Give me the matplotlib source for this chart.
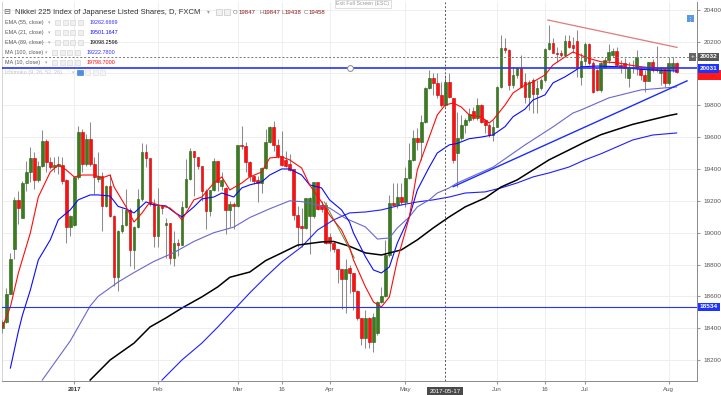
import matplotlib.pyplot as plt
from matplotlib.patches import Rectangle
import numpy as np

plt.rcParams['font.family'] = ['Liberation Sans', 'DejaVu Sans']

# daily bars, bar 0 = first (partly hidden) bar on the left
opens = [18400, 18442, 18614, 18896, 19204, 19095, 19311, 19378, 19468, 19332,
         19416, 19577, 19441, 19414, 19420, 19426, 19332, 19037, 19049, 19351,
         19629, 19430, 19587, 19430, 19340, 19355, 19169, 19294, 19106, 18723,
         19012, 19051, 19141, 18890, 19037, 19210, 19508, 19468, 19179, 18980,
         19169, 19050, 19058, 18844, 18938, 18924, 19162, 19336, 19510, 19472,
         19420, 19263, 19133, 19267, 19447, 19290, 19280, 19141, 19183, 19167,
         19550, 19545, 19445, 19357, 19330, 19309, 19405, 19571, 19661, 19552,
         19483, 19455, 19430, 19397, 19112, 19040, 19030, 19106, 19106, 19315,
         19175, 19175, 18970, 18938, 18896, 18771, 18708, 18776, 18745, 18636,
         18463, 18337, 18463, 18316, 18368, 18567, 18603, 18860, 19189, 19174,
         19226, 19195, 19341, 19456, 19592, 19571, 19697, 19906, 19969, 19938,
         19864, 19802, 19948, 19847, 19500, 19592, 19676, 19707, 19766, 19718,
         19802, 19707, 19676, 19613, 19666, 19917, 20157, 20147, 19927, 19990,
         20032, 19948, 19850, 19958, 19871, 19906, 19958, 20151, 20193, 20130,
         20126, 20115, 20205, 20180, 20205, 19979, 20078, 20184, 20063, 20021,
         19896, 20042, 20084, 20115, 20140, 20053, 20063, 19969, 20042, 20032,
         20025, 19990, 19952, 20069, 20025, 20000, 20025, 19938, 20025, 20067]
highs = [18450, 18651, 18875, 19221, 19263, 19326, 19451, 19535, 19504, 19451,
         19644, 19587, 19472, 19474, 19480, 19472, 19335, 19110, 19351, 19671,
         19650, 19619, 19692, 19472, 19504, 19378, 19300, 19368, 19110, 19015,
         19158, 19273, 19158, 19045, 19273, 19560, 19556, 19470, 19210, 19280,
         19175, 19095, 19060, 19012, 18960, 19200, 19462, 19529, 19515, 19476,
         19420, 19275, 19270, 19468, 19450, 19384, 19285, 19200, 19190, 19552,
         19671, 19570, 19448, 19360, 19357, 19410, 19650, 19671, 19698, 19587,
         19640, 19514, 19493, 19400, 19169, 19158, 19220, 19225, 19320, 19320,
         19200, 19190, 19001, 18950, 18900, 18775, 18834, 18797, 18750, 18640,
         18465, 18515, 18470, 18494, 18570, 18661, 18954, 19237, 19310, 19310,
         19310, 19415, 19561, 19645, 19655, 19739, 19917, 20021, 20000, 20000,
         19948, 19990, 20000, 19847, 19760, 19739, 19718, 19781, 19787, 19843,
         19805, 19712, 19686, 19707, 19920, 20241, 20220, 20150, 20042, 20042,
         20115, 20000, 19958, 19969, 19958, 19969, 20157, 20304, 20220, 20168,
         20147, 20241, 20241, 20230, 20272, 20126, 20199, 20193, 20078, 20025,
         20073, 20105, 20184, 20157, 20168, 20084, 20094, 20073, 20084, 20147,
         20042, 20021, 20073, 20090, 20172, 20042, 20032, 20101, 20105, 20073]
lows = [18370, 18436, 18612, 18834, 19053, 19091, 19263, 19315, 19273, 19315,
        19410, 19378, 19399, 19378, 19370, 19305, 18938, 18980, 19040, 19340,
        19378, 19420, 19420, 19242, 19320, 19012, 19160, 19100, 18666, 18635,
        19001, 19045, 18792, 18771, 19030, 19200, 19410, 19170, 18907, 18907,
        19115, 18844, 18802, 18792, 18855, 18920, 19155, 19330, 19231, 19399,
        19200, 19022, 19106, 19260, 19263, 19270, 18991, 19033, 19022, 19160,
        19525, 19378, 19326, 19305, 19190, 19252, 19400, 19565, 19510, 19468,
        19420, 19410, 19390, 19081, 18907, 18907, 19025, 18865, 19095, 19140,
        19127, 18930, 18886, 18880, 18687, 18519, 18498, 18620, 18515, 18452,
        18295, 18274, 18274, 18253, 18360, 18557, 18599, 18850, 19170, 19153,
        19174, 19164, 19335, 19450, 19519, 19456, 19690, 19900, 19864, 19843,
        19791, 19791, 19845, 19438, 19289, 19582, 19624, 19697, 19707, 19707,
        19686, 19624, 19603, 19578, 19661, 19910, 20126, 19896, 19906, 19969,
        19912, 19812, 19770, 19749, 19749, 19896, 19948, 20147, 20126, 20073,
        20105, 20105, 20157, 20126, 19979, 19927, 20053, 20053, 19875, 19890,
        19885, 20032, 20063, 20105, 20042, 20000, 19969, 19917, 20000, 19990,
        19958, 19885, 19950, 20011, 20011, 19927, 19917, 19930, 20011, 20000]
closes = [18440, 18618, 18834, 19204, 19154, 19311, 19378, 19468, 19332, 19416,
          19577, 19441, 19414, 19426, 19426, 19326, 19033, 19106, 19351, 19629,
          19430, 19587, 19430, 19351, 19355, 19169, 19294, 19106, 18723, 19012,
          19049, 19141, 18890, 19037, 19210, 19508, 19468, 19179, 18980, 19169,
          19158, 19058, 18844, 18938, 18924, 19162, 19336, 19510, 19472, 19420,
          19263, 19133, 19267, 19447, 19315, 19330, 19141, 19183, 19167, 19550,
          19545, 19445, 19357, 19326, 19309, 19405, 19571, 19661, 19552, 19483,
          19426, 19420, 19395, 19112, 19037, 19030, 19217, 19215, 19315, 19148,
          19148, 18938, 18938, 18896, 18771, 18708, 18771, 18745, 18636, 18463,
          18337, 18463, 18316, 18473, 18567, 18603, 18860, 19189, 19174, 19226,
          19195, 19341, 19456, 19592, 19571, 19697, 19906, 19969, 19938, 19864,
          19802, 19948, 19850, 19458, 19592, 19676, 19707, 19745, 19718, 19802,
          19697, 19676, 19613, 19666, 19917, 20157, 20147, 19927, 19990, 20032,
          19917, 19850, 19948, 19871, 19906, 19958, 20151, 20193, 20130, 20120,
          20115, 20205, 20168, 20160, 20032, 20078, 20184, 20063, 19885, 19896,
          20067, 20084, 20136, 20140, 20053, 20042, 20032, 20042, 20032, 20105,
          19990, 19952, 20069, 20021, 20021, 20025, 19938, 20067, 20067, 20011]

# indicator lines (bar, value)
ma10_bar = [0, 2, 4, 7, 9, 12, 14, 16, 18, 20, 23, 25, 27, 28, 31, 33, 35, 37, 39, 42,
            44, 45, 48, 50, 53, 55, 57, 60, 62, 65, 67, 70, 72, 75, 77, 80, 82, 85, 87, 88,
            91, 93, 95, 97, 99, 102, 104, 107, 109, 111, 113, 115, 117, 120, 122, 123, 126,
            128, 131, 133, 136, 138, 141, 143, 147, 150, 154, 157, 160, 164, 167, 169]
ma10_val = [18408, 18534, 18747, 18998, 19224, 19381, 19425, 19394, 19350, 19362,
            19362, 19344, 19362, 19287, 19162, 19067, 19124, 19193, 19174, 19155,
            19111, 19080, 19206, 19224, 19312, 19350, 19268, 19312, 19350, 19381,
            19469, 19476, 19457, 19406, 19300, 19193, 19111, 19017, 18911, 18829,
            18660, 18565, 18534, 18597, 18829, 19099, 19394, 19601, 19739, 19802,
            19814, 19789, 19739, 19727, 19689, 19708, 19802, 19877, 19927, 19946,
            19990, 20053, 20103, 20134, 20094, 20073, 20067, 20053, 20042, 20032,
            20032, 20040]
ema21_bar = [2, 4, 5, 7, 9, 12, 14, 17, 19, 22, 24, 27, 29, 31, 33, 36, 38, 41, 43, 45,
             48, 50, 53, 55, 58, 60, 62, 65, 67, 70, 72, 75, 77, 80, 82, 85, 87, 88, 91, 93,
             95, 97, 99, 102, 104, 107, 109, 112, 114, 117, 120, 123, 126, 128, 131, 133,
             136, 138, 141, 143, 145, 149, 154, 160, 169]
ema21_val = [18150, 18380, 18480, 18640, 18829, 18955, 19080, 19143, 19206, 19237,
             19237, 19230, 19165, 19149, 19124, 19193, 19174, 19168, 19130, 19099,
             19162, 19212, 19224, 19249, 19224, 19281, 19300, 19319, 19362, 19400,
             19400, 19362, 19300, 19281, 19206, 19143, 19067, 18998, 18849, 18766,
             18747, 18785, 18936, 19099, 19268, 19412, 19500, 19551, 19560, 19590,
             19600, 19614, 19666, 19728, 19776, 19833, 19865, 19940, 19978, 20009,
             20041, 20046, 20042, 20025, 20015]
ema55_bar = [10, 17, 22, 24, 29, 33, 38, 43, 48, 53, 58, 62, 67, 72, 75, 77, 82, 86,
             91, 94, 97, 99, 102, 104, 107, 109, 112, 114, 123, 131, 138, 143, 145, 152,
             160, 169]
ema55_val = [18075, 18320, 18540, 18600, 18690, 18750, 18820, 18875, 18945, 19000,
             19035, 19095, 19150, 19200, 19195, 19186, 19155, 19090, 19036, 18960,
             18967, 19030, 19099, 19162, 19206, 19249, 19281, 19312, 19412, 19551,
             19664, 19751, 19770, 19846, 19896, 19915]
ema89_bar = [22, 27, 33, 37, 41, 45, 50, 54, 57, 62, 66, 70, 74, 80, 83, 87, 91, 95,
             100, 104, 108, 112, 116, 121, 125, 129, 133, 137, 142, 146, 150, 158, 167, 169]
ema89_val = [18075, 18201, 18307, 18408, 18465, 18527, 18597, 18660, 18720, 18753,
             18825, 18873, 18922, 18942, 18945, 18915, 18873, 18860, 18892, 18955,
             19030, 19099, 19162, 19218, 19287, 19331, 19394, 19457, 19519, 19569,
             19615, 19680, 19735, 19745]
ma100_bar = [40, 45, 50, 54, 58, 62, 66, 70, 75, 79, 83, 87, 91, 95, 100, 104, 108, 112,
             116, 121, 125, 129, 133, 137, 142, 146, 150, 158, 163, 169]
ma100_val = [18075, 18201, 18307, 18408, 18515, 18622, 18722, 18816, 18911, 19017,
             19080, 19124, 19130, 19143, 19174, 19193, 19206, 19224, 19249, 19256,
             19281, 19312, 19350, 19375, 19412, 19457, 19495, 19582, 19613, 19626]

# drawings
level_hi = 20031
level_lo = 18534
support_bar = [113, 171.6]
support_val = [19289, 19953]
resist_bar = [136.7, 169.1]
resist_val = [20335, 20163]
green_bar = [80.7, 88.2]
green_val = [19193, 18842]
cross_bar = 111
cross_val = 20103
last_close = 19990

tick_bars = [18, 39, 59, 70, 82, 101, 124, 136, 146, 167]
tick_labels = ['2017', 'Feb', 'Mar', '16', 'Apr', 'May', 'Jun', '16', 'Jul', 'Aug']

legend_names = ['EMA (55, close)', 'EMA (21, close)', 'EMA (89, close)',
                'MA (100, close)', 'MA (10, close)']
legend_values = ['19262.6669', '19501.1647', '19098.2596', '19222.7800', '19798.7000']
legend_colors = ['#2f2fff', '#1010ff', '#000000', '#2f2fff', '#ff0000']

W, H = 721, 395
fig = plt.figure(figsize=(W / 100, H / 100), dpi=100)
ax = fig.add_axes([2 / W, 14 / H, 695 / W, 379 / H])

o = np.array(opens); hi = np.array(highs); lo = np.array(lows); c = np.array(closes)
x = np.arange(len(o))
up = c >= o
ax.vlines(x, lo, hi, color='#8c8c8c', lw=0.75, zorder=3)
body_lo = np.minimum(o, c)
body_h = np.maximum(np.abs(c - o), 8)
ax.bar(x[up], body_h[up], bottom=body_lo[up], width=0.68, color='#3a7d1e',
       edgecolor='#2a5e14', lw=0.4, zorder=4)
ax.bar(x[~up], body_h[~up], bottom=body_lo[~up], width=0.68, color='#ff1010',
       edgecolor='#c80000', lw=0.4, zorder=4)

ax.plot(ma100_bar, ma100_val, color='#1f1fff', lw=0.8, zorder=5)
ax.plot(ema89_bar, ema89_val, color='#000000', lw=1.1, zorder=5)
ax.plot(ema55_bar, ema55_val, color='#6a66d0', lw=0.8, zorder=5)
ax.plot(ema21_bar, ema21_val, color='#0a0aff', lw=0.8, zorder=5)
ax.plot(ma10_bar, ma10_val, color='#ff0a0a', lw=0.8, zorder=6)
ax.plot(green_bar, green_val, color='#4c9a3a', lw=0.7, zorder=5)

ax.axhline(level_hi, color='#2233ff', lw=1.2, zorder=6)
ax.axhline(level_lo, color='#2233ff', lw=0.8, zorder=6)
ax.plot([87], [level_hi], 'o', ms=4.2, mfc='white', mec='#888888', mew=0.7, zorder=7)
ax.plot(support_bar, support_val, color='#1a2cff', lw=1.0, zorder=6)
ax.plot(resist_bar, resist_val, color='#e07a7a', lw=0.9, zorder=6)

ax.axvline(cross_bar, color='#555555', lw=0.7, ls=(0, (2, 2)), zorder=7)
ax.axhline(cross_val, color='#777777', lw=0.7, ls=(0, (2, 2)), zorder=7)

ax.set_xlim(-0.1, 174.1)
ax.set_ylim(18069, 20448)
ax.yaxis.tick_right()
ax.set_yticks(np.arange(18200, 20401, 200))
ax.set_xticks(tick_bars)
ax.set_xticklabels(tick_labels)
ax.tick_params(axis='y', labelsize=4.6, labelcolor='#555555', color='#999999',
               length=2.5, pad=2)
ax.tick_params(axis='x', labelsize=4.4, labelcolor='#555555', color='#999999',
               length=2.5, pad=2)
ax.get_xticklabels()[0].set_fontweight('bold')
ax.get_xticklabels()[0].set_color('#333333')
ax.grid(color='#eeeeee', lw=0.7)
ax.set_axisbelow(True)
ax.spines['top'].set_visible(False)
ax.spines['left'].set_color('#d5d5d5')
ax.spines['right'].set_color('#8a8a8a')
ax.spines['bottom'].set_color('#8a8a8a')
for s in ax.spines.values():
    s.set_linewidth(0.7)

# price labels on the right scale
yt = ax.get_yaxis_transform()
# last-price tag, mostly hidden under the level tag
ax.add_patch(Rectangle((1.001, last_close - 32), 0.034, 64, transform=yt,
                       fc='#ff1a1a', ec='none', zorder=10, clip_on=False))
ax.text(1.004, level_hi, '20031', transform=yt, ha='left', va='center', fontsize=4.6,
        color='white', fontweight='bold', zorder=11, clip_on=False,
        bbox=dict(boxstyle='square,pad=0.3', fc='#1f33ff', ec='none'))
ax.text(1.004, cross_val, '20032', transform=yt, ha='left', va='center', fontsize=4.6,
        color='white', fontweight='bold', zorder=11, clip_on=False,
        bbox=dict(boxstyle='square,pad=0.3', fc='#555555', ec='none'))
ax.text(0.9935, cross_val, '+', transform=yt, ha='center', va='center', fontsize=4.6,
        color='white', zorder=11,
        bbox=dict(boxstyle='square,pad=0.25', fc='#666666', ec='none'))
ax.text(1.004, level_lo, '18534', transform=yt, ha='left', va='center', fontsize=4.6,
        color='white', fontweight='bold', zorder=11, clip_on=False,
        bbox=dict(boxstyle='square,pad=0.3', fc='#1f33ff', ec='none'))
ax.text(cross_bar, -0.022, '2017-05-17', transform=ax.get_xaxis_transform(), ha='center',
        va='top', fontsize=4.4, color='white', zorder=11, clip_on=False,
        bbox=dict(boxstyle='square,pad=0.35', fc='#4a4a4a', ec='none'))


def fx(px):
    return px / W


def fy(py):
    return 1 - py / H


# legend block
fig.text(fx(3), fy(12), '\u229f', fontsize=6, color='#666666', va='center')
fig.text(fx(15), fy(12), 'Nikkei 225 Index of Japanese Listed Shares, D, FXCM',
         fontsize=5.5, color='#333333', va='center')
fig.text(fx(207), fy(12), '\u25be', fontsize=4, color='#999999', va='center')
for k in range(2):
    fig.add_artist(Rectangle((fx(216 + 8 * k), fy(15)), 6 / W, 6 / H, transform=fig.transFigure,
                             fc='#f2f2f2', ec='#c8c8c8', lw=0.5))
ohlc_items = [('O', 233, '#777777'), ('19847', 239, '#8b1a1a'), ('H', 259, '#777777'),
              ('19847', 264, '#8b1a1a'), ('L', 281, '#777777'), ('19438', 285, '#8b1a1a'),
              ('C', 304, '#777777'), ('19458', 309, '#8b1a1a')]
for txt, px, col in ohlc_items:
    fig.text(fx(px), fy(12), txt, fontsize=4.3, color=col, va='center')

rows_y = [22.7, 32.3, 42.3, 52.3, 62.3]
for name, val, col, ry in zip(legend_names, legend_values, legend_colors, rows_y):
    fig.text(fx(5), fy(ry), name, fontsize=3.9, color='#555555', va='center')
    is_ma10 = name.startswith('MA (10')
    fig.text(fx(45 if is_ma10 else 48), fy(ry), '\u25be', fontsize=3.5, color='#aaaaaa',
             va='center')
    x0 = 52 if is_ma10 else 55
    for k in range(4):
        fig.add_artist(Rectangle((fx(x0 + 7.5 * k), fy(ry + 2.5)), 5 / W, 5 / H,
                                 transform=fig.transFigure, fc='#f0f0f0', ec='#cfcfcf', lw=0.4))
    fig.text(fx(87 if is_ma10 else 90), fy(ry), val, fontsize=3.9, color=col, va='center')
fig.text(fx(5), fy(72.3), 'Ichimoku (9, 26, 52, 26)', fontsize=3.9, color='#c4c4c4', va='center')
fig.text(fx(72), fy(72.3), '\u25be', fontsize=3.5, color='#cccccc', va='center')
fig.add_artist(Rectangle((fx(77), fy(75)), 5.5 / W, 5.5 / H, transform=fig.transFigure,
                         fc='#4a90e0', ec='#3a70c0', lw=0.4))
for k in range(3):
    fig.add_artist(Rectangle((fx(85 + 7.5 * k), fy(75)), 5 / W, 5 / H,
                             transform=fig.transFigure, fc='#f4f4f4', ec='#dddddd', lw=0.4))

fig.text(fx(363), fy(4), 'Exit Full Screen (ESC)', fontsize=3.8, color='#999999',
         ha='center', va='center',
         bbox=dict(boxstyle='square,pad=0.3', fc='white', ec='#d0d0d0', lw=0.5))
fig.add_artist(Rectangle((fx(687), fy(22)), 7 / W, 7 / H, transform=fig.transFigure,
                         fc='#5a9be0', ec='none'))
fig.text(fx(690.5), fy(18.5), '\u22ee', fontsize=4, color='white', ha='center', va='center')

fig.savefig('out.png', dpi=100)
